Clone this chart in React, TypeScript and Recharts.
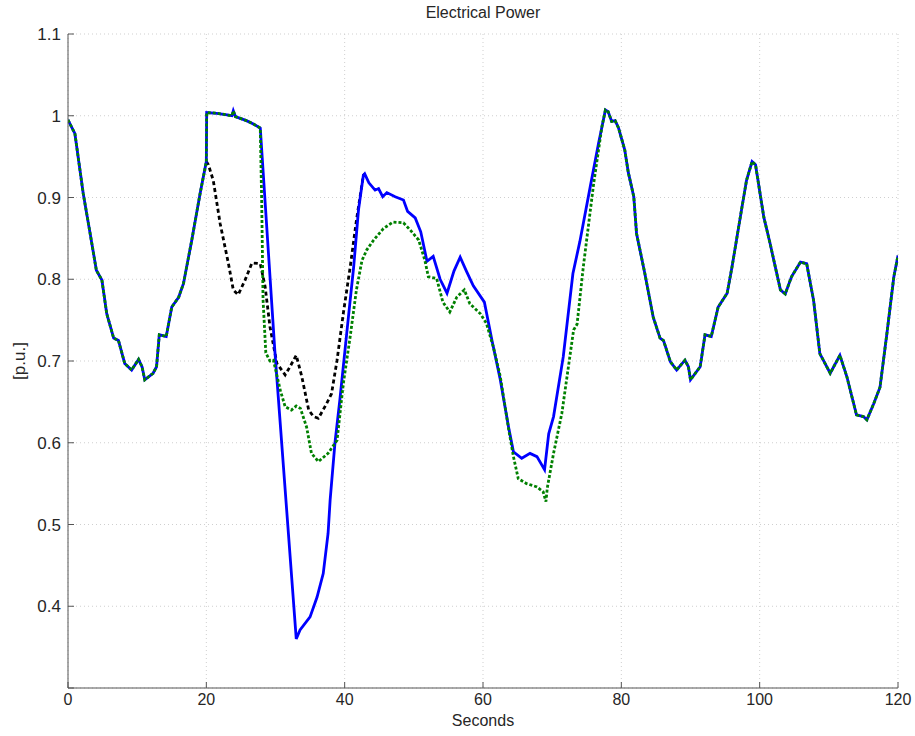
import { LineChart, Line, XAxis, YAxis, CartesianGrid } from 'recharts';

// shared trace, 0 s up to where the cases split
const headT = [0, 1, 2.2, 3.2, 4.1, 4.9, 5.6, 6.6, 7.3, 8.2, 9.2, 10.2, 10.7, 11.1, 12.3, 12.8, 13.2, 14.2, 15.0, 16.0, 16.7, 17.9, 19.1, 20.0, 20.05, 21.5, 23.0, 23.7, 23.9, 24.2, 25.8, 26.8, 27.8];
const headV = [0.995, 0.978, 0.905, 0.856, 0.811, 0.799, 0.758, 0.728, 0.725, 0.697, 0.689, 0.702, 0.693, 0.677, 0.685, 0.693, 0.732, 0.730, 0.766, 0.778, 0.795, 0.848, 0.905, 0.944, 1.004, 1.003, 1.001, 1.0, 1.006, 0.999, 0.994, 0.99, 0.985];

// blue (solid) between split and rejoin
const blueT = [29.9, 33.0, 33.55, 35.0, 36.0, 36.9, 37.6, 37.9, 38.6, 39.3, 40.3, 41.3, 42.0, 42.7, 42.9, 43.5, 44.4, 44.9, 45.5, 46.1, 47.3, 48.5, 49.1, 50.2, 51.0, 51.9, 52.8, 53.8, 54.8, 55.8, 56.7, 57.6, 58.6, 60.2, 61.3, 62.5, 63.7, 64.4, 65.6, 66.8, 67.8, 68.9, 69.5, 70.2, 71.6, 73.0, 74.0, 75.5, 76.7];
const blueV = [0.713, 0.36, 0.371, 0.387, 0.411, 0.44, 0.489, 0.53, 0.6, 0.652, 0.734, 0.815, 0.885, 0.927, 0.929, 0.918, 0.909, 0.911, 0.901, 0.906, 0.901, 0.897, 0.883, 0.875, 0.858, 0.822, 0.828, 0.8, 0.783, 0.81, 0.827, 0.81, 0.792, 0.772, 0.725, 0.677, 0.619, 0.589, 0.581, 0.587, 0.583, 0.567, 0.611, 0.632, 0.705, 0.807, 0.846, 0.913, 0.966];

// green (dotted) between split and rejoin
const greenT = [28.0, 28.2, 28.6, 29.2, 29.7, 30.7, 31.4, 32.3, 33.0, 33.6, 34.5, 35.2, 36.2, 37.6, 38.9, 39.8, 40.8, 41.7, 42.5, 43.2, 44.2, 45.6, 47.0, 48.5, 49.5, 50.7, 51.6, 52.1, 53.3, 54.2, 55.2, 56.2, 57.3, 58.1, 59.6, 60.5, 61.5, 62.5, 63.7, 64.4, 65.1, 66.3, 67.8, 68.7, 69.1, 69.3, 70.2, 71.4, 73.1, 73.6, 74.5, 76.0, 77.2];
const greenV = [0.897, 0.775, 0.71, 0.7, 0.701, 0.664, 0.644, 0.64, 0.645, 0.642, 0.619, 0.587, 0.577, 0.587, 0.603, 0.672, 0.73, 0.787, 0.823, 0.836, 0.848, 0.862, 0.87, 0.869, 0.86, 0.848, 0.823, 0.803, 0.801, 0.772, 0.76, 0.778, 0.787, 0.77, 0.758, 0.746, 0.717, 0.681, 0.617, 0.583, 0.556, 0.55, 0.546, 0.54, 0.528, 0.545, 0.587, 0.636, 0.738, 0.745, 0.815, 0.917, 0.987];

// black (dashed) case, only visible 20..43 s
const blackT = [20.0, 20.3, 21.0, 22.0, 23.2, 23.9, 24.6, 25.6, 26.6, 27.8, 28.5, 29.2, 30.2, 31.4, 32.1, 33.0, 33.8, 34.8, 35.5, 36.2, 37.4, 38.1, 38.9, 39.8, 40.8, 41.7, 42.7, 42.9];
const blackV = [0.944, 0.94, 0.921, 0.868, 0.819, 0.787, 0.781, 0.799, 0.82, 0.819, 0.791, 0.742, 0.697, 0.683, 0.693, 0.707, 0.681, 0.64, 0.632, 0.63, 0.648, 0.66, 0.701, 0.758, 0.815, 0.872, 0.927, 0.929];

// shared trace after rejoin
const tailT = [77.7, 78.1, 78.6, 79.1, 79.6, 80.5, 81.0, 81.8, 82.2, 83.4, 84.6, 85.6, 86.1, 87.1, 88.0, 89.2, 89.7, 90.0, 91.4, 92.1, 93.0, 94.0, 95.3, 96.0, 97.2, 98.1, 98.9, 99.4, 100.6, 101.5, 103.0, 103.7, 104.6, 105.9, 106.8, 107.8, 108.7, 110.2, 111.6, 112.6, 114.0, 115.0, 115.5, 116.5, 117.4, 118.4, 119.4, 120];
const tailV = [1.007, 1.005, 0.993, 0.994, 0.985, 0.958, 0.931, 0.901, 0.856, 0.807, 0.754, 0.728, 0.725, 0.699, 0.689, 0.701, 0.693, 0.677, 0.693, 0.732, 0.73, 0.766, 0.783, 0.815, 0.876, 0.921, 0.944, 0.94, 0.876, 0.844, 0.787, 0.782, 0.803, 0.821, 0.819, 0.774, 0.709, 0.685, 0.707, 0.681, 0.634, 0.632, 0.628, 0.648, 0.668, 0.734, 0.803, 0.829];

const xTicks = [0, 20, 40, 60, 80, 100, 120];
const yTicks = [0.3, 0.4, 0.5, 0.6, 0.7, 0.8, 0.9, 1.0, 1.1];

const pts = (t: number[], v: number[]) => t.map((x, i) => ({ t: x, v: v[i] }));

const blueData = [...pts(headT, headV), ...pts(blueT, blueV), ...pts(tailT, tailV)];
const greenData = [...pts(headT, headV), ...pts(greenT, greenV), ...pts(tailT, tailV)];
const blackData = pts(blackT, blackV);

const FONT = '"Liberation Sans", Arial, Helvetica, sans-serif';
const TEXT = '#262626';
const xTickStyle = { fontSize: 16, fill: TEXT, fontFamily: FONT };
const yTickStyle = { fontSize: 17, fill: TEXT, fontFamily: FONT };
const fmtY = (v: number) => (v < 0.35 ? '' : String(Math.round(v * 10) / 10));

export default function App() {
  return (
    <div style={{ position: 'absolute', left: 0, top: 0, width: 915, height: 736, background: '#fff', fontFamily: FONT }}>
      <div style={{ position: 'absolute', top: 4, left: 68, width: 830, textAlign: 'center', fontSize: 16, lineHeight: '18px', color: TEXT }}>
        Electrical Power
      </div>
      <div style={{ position: 'absolute', top: 712, left: 68, width: 830, textAlign: 'center', fontSize: 16, lineHeight: '17px', color: TEXT }}>
        Seconds
      </div>
      <div
        style={{
          position: 'absolute', left: 20, top: 361, fontSize: 17, color: TEXT,
          transform: 'translate(-50%, -50%) rotate(-90deg)', whiteSpace: 'nowrap',
        }}
      >
        [p.u.]
      </div>
      <LineChart width={915} height={736} margin={{ top: 34, right: 17, bottom: 18, left: 0 }}>
        <CartesianGrid stroke="#cfcfcf" strokeDasharray="1 3" />
        <XAxis
          dataKey="t"
          type="number"
          domain={[0, 120]}
          ticks={xTicks}
          allowDataOverflow
          height={30}
          tickSize={-6}
          tickMargin={12}
          tick={xTickStyle}
          stroke="#555"
        />
        <XAxis
          xAxisId="top"
          orientation="top"
          type="number"
          domain={[0, 120]}
          ticks={xTicks}
          height={0}
          tickSize={-6}
          tick={false}
          stroke="#555"
        />
        <YAxis
          type="number"
          domain={[0.3, 1.1]}
          ticks={yTicks}
          allowDataOverflow
          width={68}
          tickSize={-6}
          tickMargin={13}
          tick={yTickStyle}
          tickFormatter={fmtY}
          stroke="#555"
        />
        <YAxis
          yAxisId="right"
          orientation="right"
          type="number"
          domain={[0.3, 1.1]}
          ticks={yTicks}
          width={0}
          tickSize={-6}
          tick={false}
          stroke="#555"
        />
        <Line data={blackData} dataKey="v" type="linear" stroke="#000" strokeWidth={2.8} strokeDasharray="4 3" dot={false} isAnimationActive={false} />
        <Line data={blueData} dataKey="v" type="linear" stroke="#0000ff" strokeWidth={2.8} dot={false} isAnimationActive={false} />
        <Line data={greenData} dataKey="v" type="linear" stroke="#008000" strokeWidth={2.8} strokeDasharray="3 2" dot={false} isAnimationActive={false} />
      </LineChart>
    </div>
  );
}
